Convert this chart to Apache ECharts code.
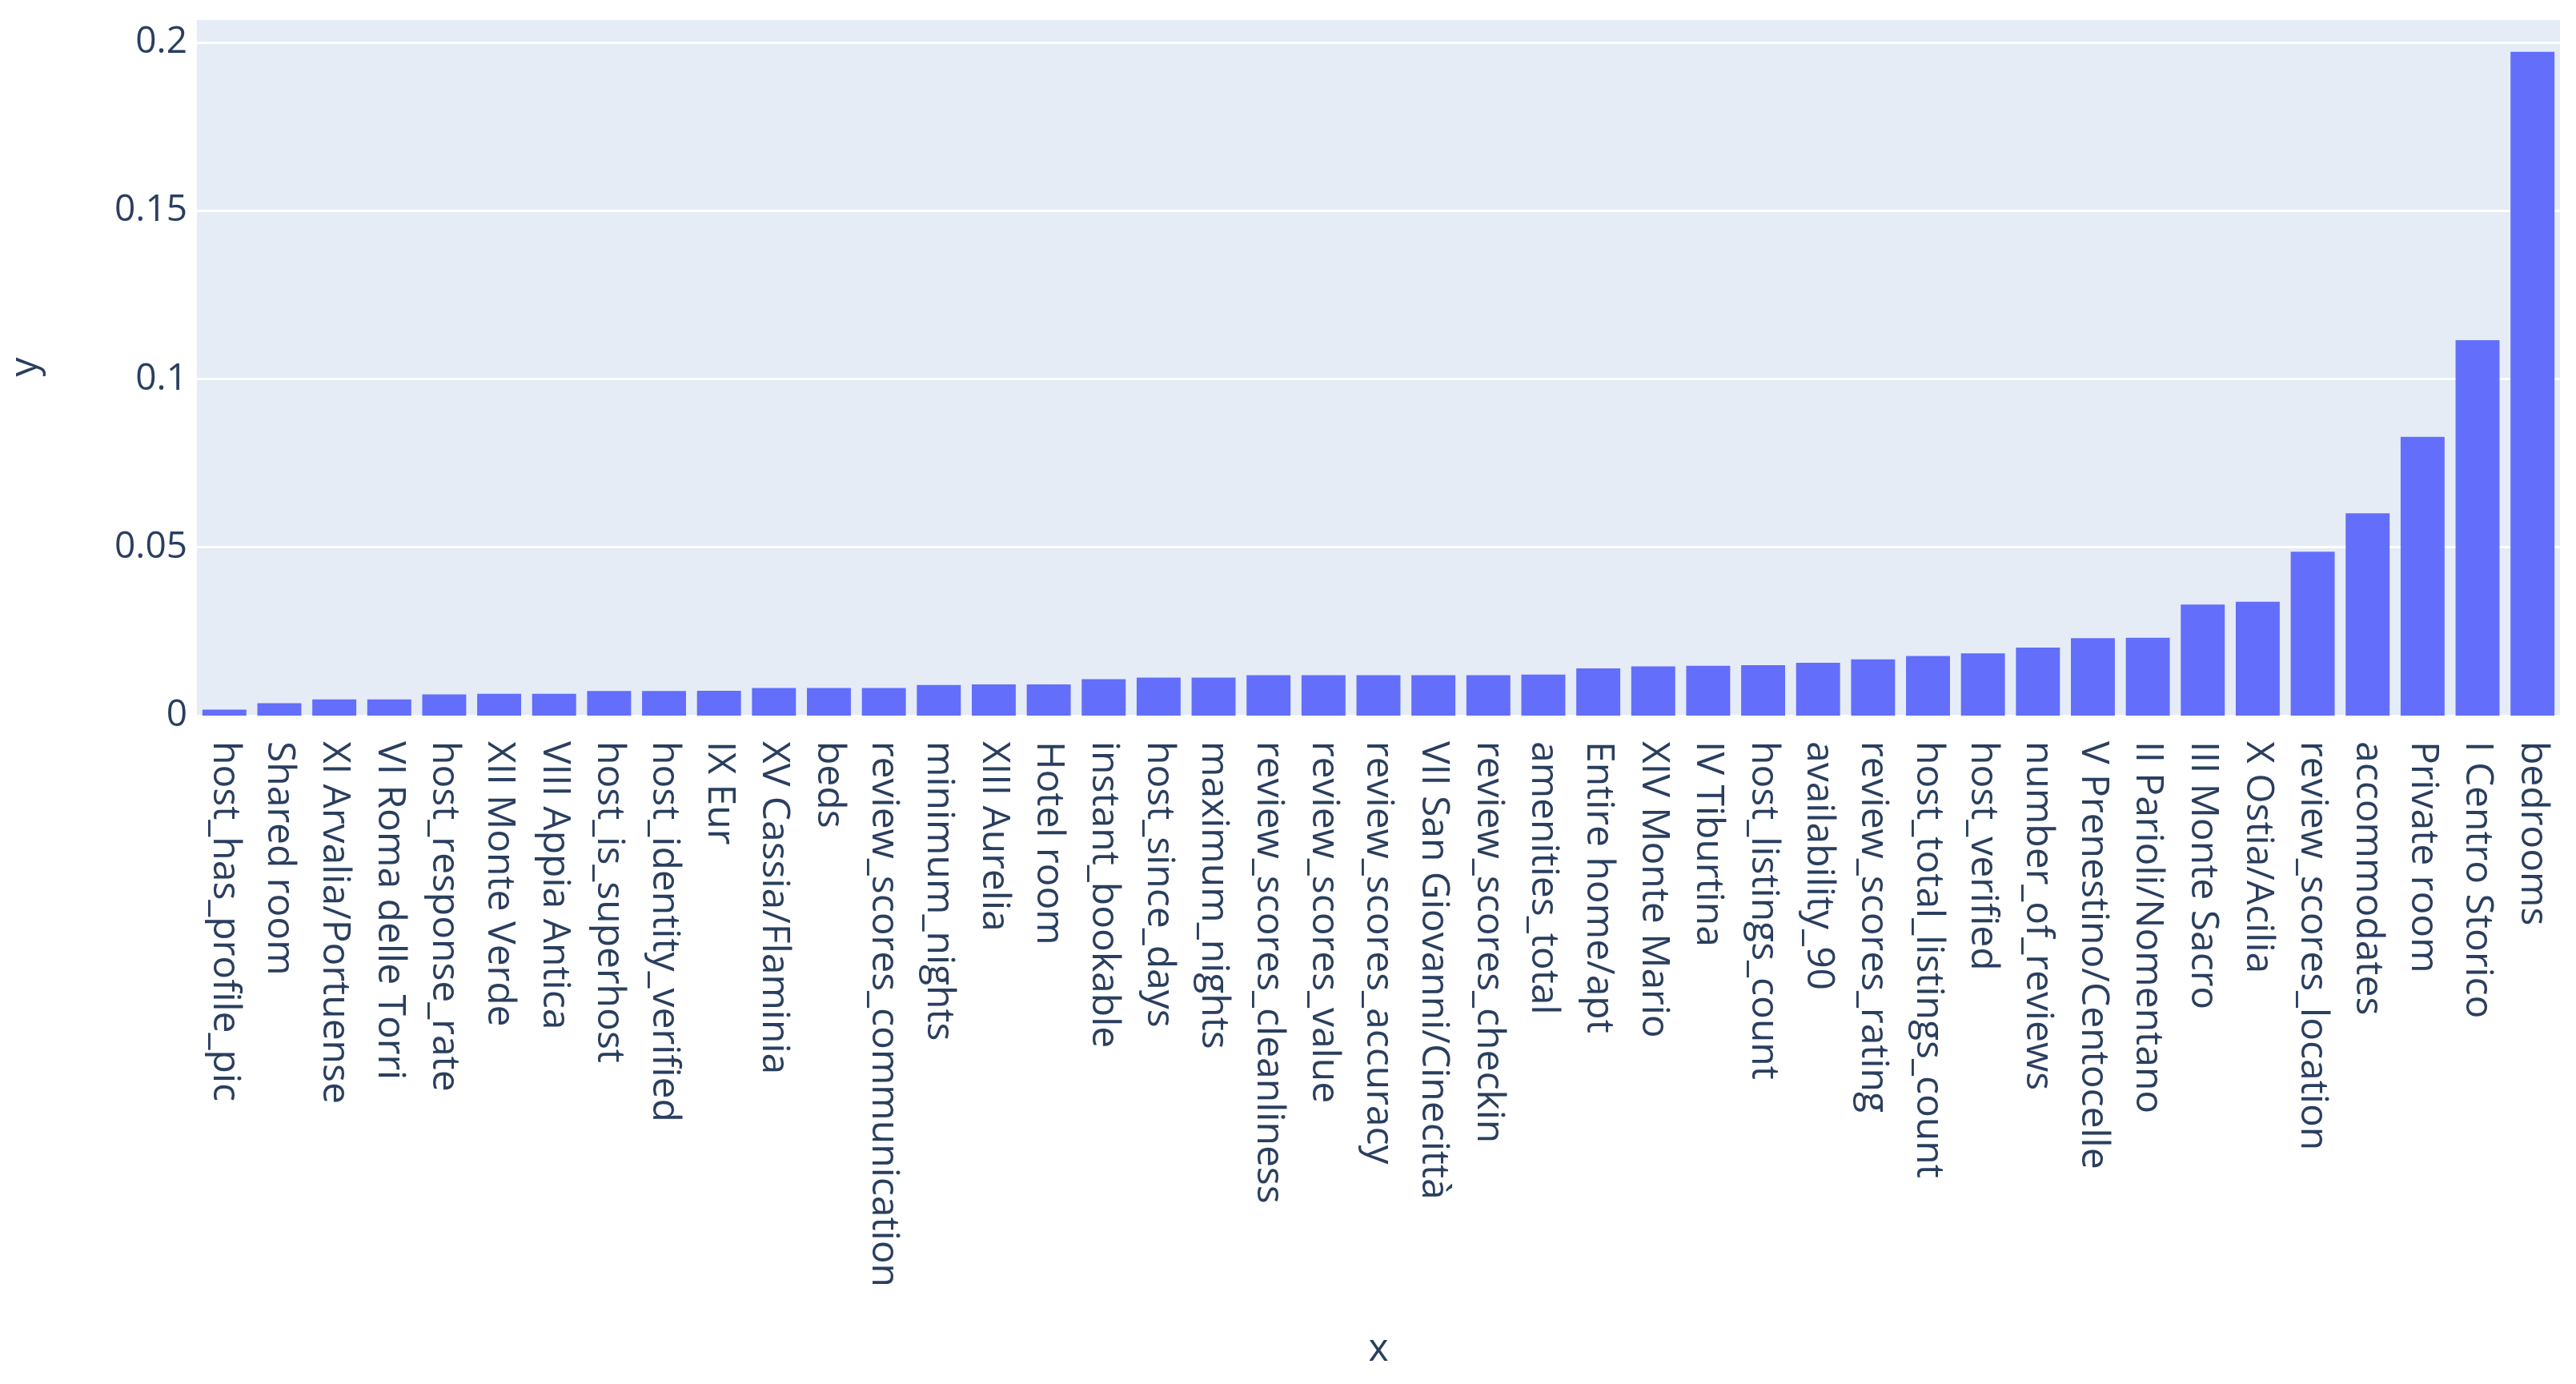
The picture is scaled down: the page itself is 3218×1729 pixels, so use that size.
<!DOCTYPE html>
<html>
<head>
<meta charset="utf-8">
<script src="https://cdn.jsdelivr.net/npm/echarts@6/dist/echarts.min.js"></script>
<style>
  html, body { margin: 0; padding: 0; background: #fff; }
  #chart { width: 3218px; height: 1729px; }
</style>
</head>
<body>
<div id="chart"></div>
<script>
// feature names, sorted by importance
const features = [
  "host_has_profile_pic", "Shared room", "XI Arvalia/Portuense", "VI Roma delle Torri",
  "host_response_rate", "XII Monte Verde", "VIII Appia Antica", "host_is_superhost",
  "host_identity_verified", "IX Eur", "XV Cassia/Flaminia", "beds",
  "review_scores_communication", "minimum_nights", "XIII Aurelia", "Hotel room",
  "instant_bookable", "host_since_days", "maximum_nights", "review_scores_cleanliness",
  "review_scores_value", "review_scores_accuracy", "VII San Giovanni/Cinecittà",
  "review_scores_checkin", "amenities_total", "Entire home/apt", "XIV Monte Mario",
  "IV Tiburtina", "host_listings_count", "availability_90", "review_scores_rating",
  "host_total_listings_count", "host_verified", "number_of_reviews",
  "V Prenestino/Centocelle", "II Parioli/Nomentano", "III Monte Sacro", "X Ostia/Acilia",
  "review_scores_location", "accommodates", "Private room", "I Centro Storico", "bedrooms"
];

const importance = [
  0.0018, 0.0037, 0.0048, 0.0048,
  0.0063, 0.0065, 0.0065, 0.0073,
  0.0073, 0.0074, 0.0082, 0.0082,
  0.0082, 0.0091, 0.0093, 0.0093,
  0.0108, 0.0113, 0.0113, 0.0120,
  0.0120, 0.0120, 0.0120,
  0.0120, 0.0122, 0.0140, 0.0146,
  0.0148, 0.0150, 0.0157, 0.0167,
  0.0177, 0.0185, 0.0202,
  0.0230, 0.0231, 0.0330, 0.0338,
  0.0487, 0.0601, 0.0828, 0.1115, 0.1972
];

const yTicks = [0, 0.05, 0.1, 0.15, 0.2];

const chart = echarts.init(document.getElementById("chart"));

const textColor = "#2a3f5f";
const fontFamily = '"Open Sans", "Noto Sans", sans-serif';

const option = {
  animation: false,
  backgroundColor: "#ffffff",
  grid: {
    left: 246,
    right: 20,
    top: 23,
    bottom: 835,
    show: true,
    backgroundColor: "#e5ecf6",
    borderWidth: 0,
  },
  xAxis: {
    type: "category",
    data: features,
    name: "x",
    nameLocation: "middle",
    nameGap: 768,
    nameTextStyle: { color: textColor, fontSize: 48, fontFamily: fontFamily },
    axisLine: { show: false },
    axisTick: { show: false },
    axisLabel: {
      interval: 0,
      rotate: -90,
      margin: 32,
      color: textColor,
      fontSize: 48,
      fontFamily: fontFamily,
    },
  },
  yAxis: {
    type: "value",
    min: 0,
    max: 0.2071,
    interval: 0.05,
    name: "y",
    nameLocation: "middle",
    nameGap: 190,
    nameTextStyle: { color: textColor, fontSize: 48, fontFamily: fontFamily },
    axisLine: { show: false },
    axisTick: { show: false },
    splitLine: { lineStyle: { color: "#ffffff", width: 3 } },
    axisLabel: {
      showMaxLabel: false,
      margin: 12,
      color: textColor,
      fontSize: 46,
      fontFamily: fontFamily,
      formatter: function (v) {
        const r = +v.toFixed(4);
        return yTicks.indexOf(r) >= 0 ? String(r) : "";
      },
    },
  },
  series: [
    {
      type: "bar",
      data: importance,
      barCategoryGap: "20%",
      itemStyle: {
        color: "#636efa",
      },
    },
  ],
};

chart.setOption(option);
</script>
</body>
</html>
